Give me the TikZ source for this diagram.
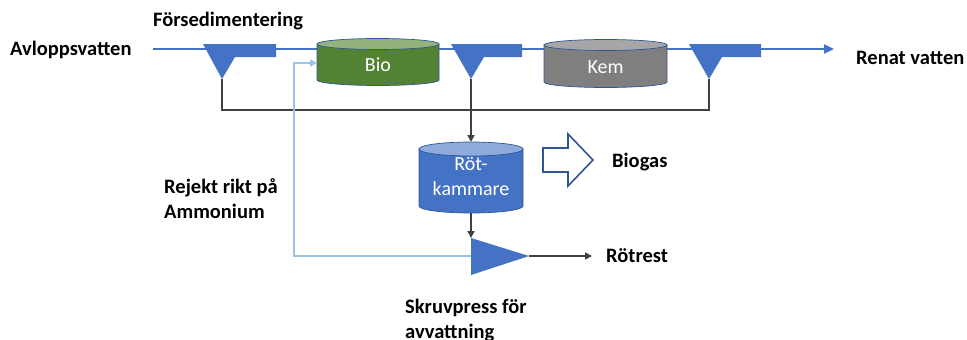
\documentclass[tikz,border=0pt]{standalone}
\usepackage{fontspec}
\setmainfont{Carlito}
\usetikzlibrary{arrows.meta}

\definecolor{flowblue}{HTML}{4472C4}
\definecolor{edgeblue}{HTML}{2F5597}
\definecolor{rejectblue}{HTML}{9DC3E6}
\definecolor{sludgegray}{HTML}{404040}
\definecolor{biobody}{HTML}{548235}
\definecolor{biotop}{HTML}{93B27C}
\definecolor{kembody}{HTML}{7F7F7F}
\definecolor{kemtop}{HTML}{A6A6A6}
\definecolor{digbody}{HTML}{4472C4}
\definecolor{digtop}{HTML}{8FAADC}

% tank: #1 cx, #2 top cy, #3 bottom cy, #4 rx, #5 ry, #6 body colour, #7 lid colour
\newcommand\drawtank[7]{%
  \filldraw[fill=#6, draw=edgeblue, line width=0.7pt]
    (#1-#4,#2) -- (#1-#4,#3)
    arc[start angle=180, end angle=360, x radius=#4pt, y radius=#5pt]
    -- (#1+#4,#2) -- cycle;
  \filldraw[fill=#7, draw=edgeblue, line width=0.7pt]
    (#1,#2) ellipse[x radius=#4pt, y radius=#5pt];
}

\begin{document}
\begin{tikzpicture}[x=1pt, y=-1pt,
  lbl/.style={font=\bfseries\fontsize{20.5}{25}\selectfont, inner sep=0pt, align=left, text=black},
  tanktext/.style={font=\fontsize{20}{25}\selectfont, inner sep=0pt, align=center, text=white},
  flowline/.style={draw=flowblue, line width=2pt, -{Triangle[length=10pt, width=9pt]}},
  sludge/.style={draw=sludgegray, line width=1.6pt},
  sludgearrow/.style={sludge, -{Triangle[length=7pt, width=7pt]}},
  reject/.style={draw=rejectblue, line width=2pt, -{Triangle[length=7pt, width=7pt]}},
  clarifier/.style={fill=flowblue},
]
\useasboundingbox (0,0) rectangle (967,340);

% ---- key points ----
\coordinate (inlet)  at (153,49);
\coordinate (outlet) at (834,49);
\coordinate (c1) at (222,79);
\coordinate (c2) at (471,79);
\coordinate (c3) at (709,79);
\coordinate (digtop) at (471,142);
\coordinate (digbot) at (471,213);
\coordinate (presstop) at (471,238);
\coordinate (pressbot) at (471,275);
\coordinate (pressin) at (471,256);
\coordinate (pressout) at (529,256);
\coordinate (cake) at (592,256);
\coordinate (bioin) at (317,63);

% ---- main water line ----
\draw[flowline] (inlet) -- (outlet);

% ---- sludge return and feed to digester ----
\draw[sludge] (c1) -- ++(0,31) -| (c3);
\draw[sludgearrow] (c2) -- (digtop);
\draw[sludgearrow] (digbot) -- (presstop);
\draw[sludgearrow] (pressout) -- (cake);

% ---- reject water back to the bio step ----
\draw[reject] (pressin) -- (294,256) |- (bioin);

% ---- clarifiers ----
\fill[clarifier] (203,44) -- (276,44) -- (276,57) -- (235,57) -- (c1) -- cycle;
\fill[clarifier] (451,44) -- (522,44) -- (522,57) -- (484,57) -- (c2) -- cycle;
\fill[clarifier] (689,44) -- (761,44) -- (761,57) -- (722,57) -- (c3) -- cycle;

% ---- tanks ----
\drawtank{378}{44}{80}{61}{5.5}{biobody}{biotop}
\drawtank{605.5}{45}{82}{61.5}{5.5}{kembody}{kemtop}
\drawtank{471}{149}{206}{52}{7}{digbody}{digtop}
\node[tanktext] (bio) at (378,65) {Bio};
\node[tanktext] (kem) at (605.5,67) {Kem};
\node[tanktext] (dig) at (471,176) {Röt-\\kammare};

% ---- screw press ----
\fill[flowblue] (presstop) -- (pressbot) -- (pressout) -- cycle;

% ---- biogas block arrow ----
\draw[edgeblue, line width=1.6pt, fill=white, line join=miter]
  (543,148) -- (568,148) -- (568,134) -- (593,160) -- (568,186) -- (568,172) -- (543,172) -- cycle;

% ---- labels ----
\node[lbl, anchor=base west] (avl) at (10,55) {Avloppsvatten};
\node[lbl, anchor=base west] (fors) at (153,26) {Försedimentering};
\node[lbl, anchor=base west] (renat) at (856,64) {Renat vatten};
\node[lbl, anchor=base west] (biogas) at (612,167) {Biogas};
\node[lbl, anchor=base west] (rotrest) at (606,262) {Rötrest};
\node[lbl, anchor=north west] (rejekt) at (164,178) {Rejekt rikt på\\Ammonium};
\node[lbl, anchor=north west] (skruv) at (405,299) {Skruvpress för\\avvattning};
\end{tikzpicture}
\end{document}
